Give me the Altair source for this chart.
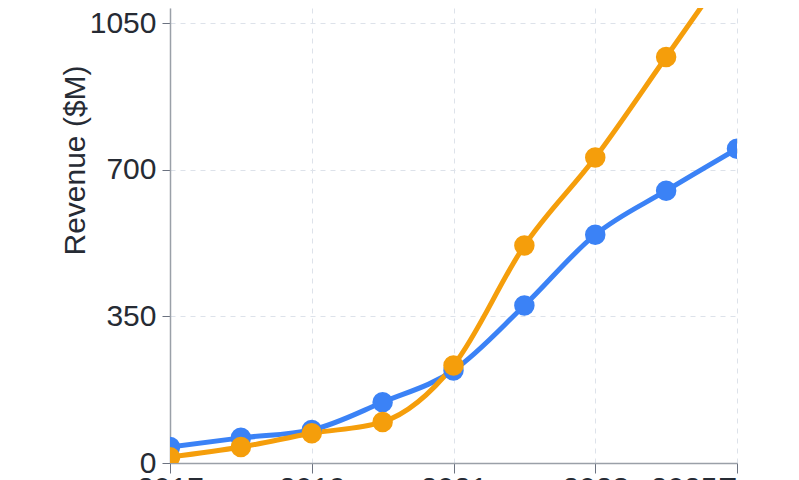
import altair as alt
import pandas as pd

years = [2017, 2018, 2019, 2020, 2021, 2022, 2023, 2024, 2025]
series_a = [38, 60, 79, 145, 221, 376, 545, 650, 750]
series_b = [14, 38, 71, 98, 233, 519, 729, 969, 1210]
series_names = ["Series A", "Series B"]
series_colors = ["#3b82f6", "#f59e0b"]
x_tick_values = [2017, 2019, 2021, 2023, 2025]
x_tick_labels = ["2017", "2019", "2021", "2023", "2025E"]
y_tick_values = [0, 350, 700, 1050]

rows = []
for i, y in enumerate(years):
    rows.append({"year": y, "series": series_names[0], "value": series_a[i], "order": 0})
for i, y in enumerate(years):
    rows.append({"year": y, "series": series_names[1], "value": series_b[i], "order": 1})
df = pd.DataFrame(rows)

label_expr = " : ".join(
    f"datum.value == {v} ? '{l}'" for v, l in zip(x_tick_values, x_tick_labels)
) + " : datum.label"

PLOT_W = 567
PLOT_H = 455
FONT = "Liberation Sans"

x_enc = alt.X(
    "year:Q",
    scale=alt.Scale(domain=[2017, 2025], nice=False, zero=False),
    axis=alt.Axis(
        values=x_tick_values,
        labelExpr=label_expr,
        labelAlign={"expr": "datum.value == 2025 ? 'right' : 'center'"},
        labelBaseline="top",
        labelPadding=0,
        tickSize=10,
        labelFontSize=30,
        labelColor="#262b34",
        labelFont=FONT,
        labelFlush=False,
        labelOverlap=False,
        title=None,
        grid=True,
        gridDash=[5, 5],
        gridColor="#dde2ea",
        domainColor="#9aa0a8",
        tickColor="#6b7280",
        domainWidth=1.5,
    ),
)
y_enc = alt.Y(
    "value:Q",
    scale=alt.Scale(domain=[0, 1086], nice=False),
    axis=alt.Axis(
        values=y_tick_values,
        format="d",
        title="Revenue ($M)",
        titleFont=FONT,
        titleFontSize=30,
        titleFontWeight="normal",
        titleColor="#262b34",
        titleAngle=-90,
        titleX=-95,
        titleY=152,
        titleAlign="center",
        titleBaseline="middle",
        labelFontSize=30,
        labelColor="#262b34",
        labelFont=FONT,
        labelPadding=6,
        tickSize=8,
        grid=True,
        gridDash=[5, 5],
        gridColor="#dde2ea",
        domainColor="#9aa0a8",
        tickColor="#6b7280",
        domainWidth=1.5,
        labelFlush=False,
    ),
)
color_enc = alt.Color(
    "series:N",
    scale=alt.Scale(domain=series_names, range=series_colors),
    legend=None,
)

base = alt.Chart(df)
lines = base.mark_line(strokeWidth=5, interpolate="monotone", clip=True).encode(
    x=x_enc, y=y_enc, color=color_enc, detail="series:N", order="year:Q"
)
points = base.mark_circle(size=420, opacity=1, clip=True).encode(
    x=x_enc, y=y_enc, color=color_enc, order="order:Q"
)

chart = (
    alt.layer(lines, points)
    .properties(
        width=PLOT_W,
        height=PLOT_H,
        autosize=alt.AutoSizeParams(type="none"),
        padding={"left": 162, "top": 0, "right": 52, "bottom": 17},
        background="white",
    )
    .configure_view(stroke=None)
)

chart.save("out.html", embed_options={"renderer": "svg", "actions": False})
